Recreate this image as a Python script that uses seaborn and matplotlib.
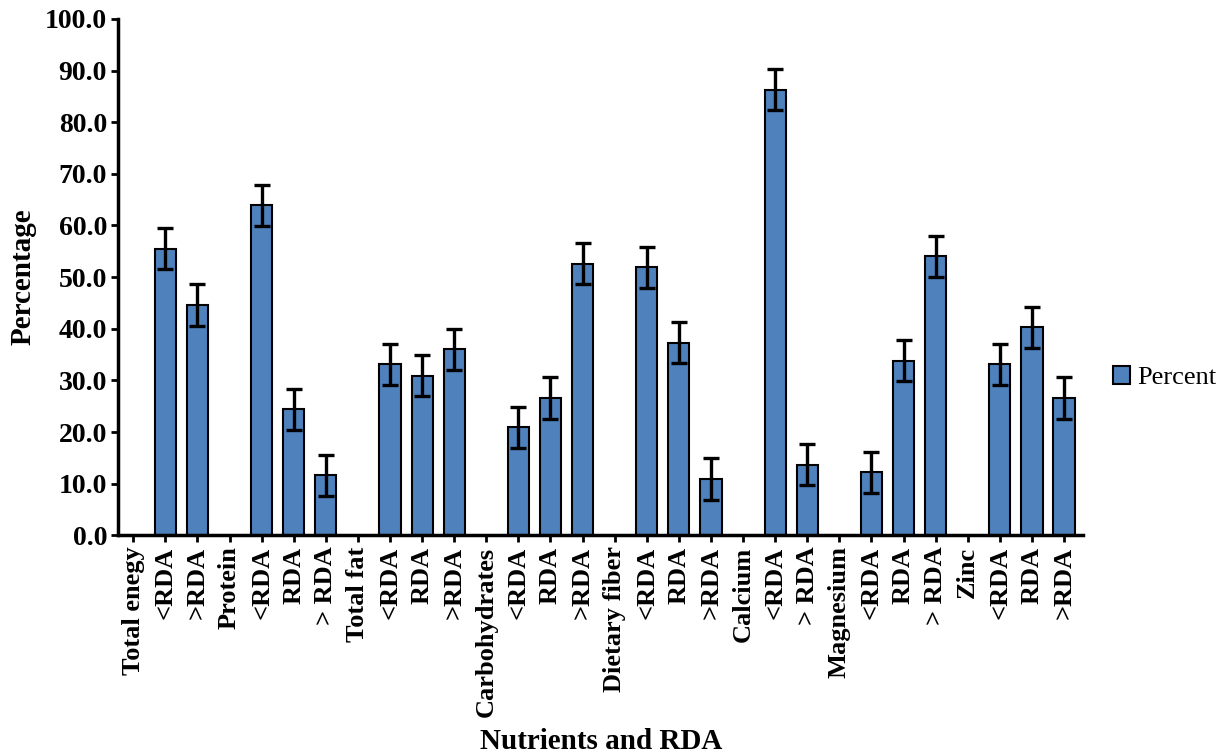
import numpy as np
import pandas as pd
import matplotlib
matplotlib.use("Agg")
import matplotlib.pyplot as plt
import seaborn as sns

# 데이터
labels = ['Total enegy', '<RDA', '>RDA',
          'Protein', '<RDA', 'RDA', '> RDA',
          'Total fat', '<RDA', 'RDA', '>RDA',
          'Carbohydrates', '<RDA', 'RDA', '>RDA',
          'Dietary fiber', '<RDA', 'RDA', '>RDA',
          'Calcium', '<RDA', '> RDA',
          'Magnesium', '<RDA', 'RDA', '> RDA',
          'Zinc', '<RDA', 'RDA', '>RDA']
percent = [np.nan, 55.5, 44.6,
           np.nan, 63.9, 24.4, 11.6,
           np.nan, 33.1, 30.9, 36.0,
           np.nan, 20.9, 26.6, 52.6,
           np.nan, 51.9, 37.3, 10.9,
           np.nan, 86.3, 13.7,
           np.nan, 12.2, 33.8, 54.0,
           np.nan, 33.1, 40.3, 26.6]
err = [np.nan if np.isnan(v) else 4.0 for v in percent]

df = pd.DataFrame({'pos': list(range(len(labels))), 'Percent': percent})

sns.set_style('white')
plt.rcParams['font.family'] = ['Liberation Serif', 'DejaVu Serif']
plt.rcParams['text.color'] = 'black'
plt.rcParams['axes.labelcolor'] = 'black'
plt.rcParams['xtick.color'] = 'black'
plt.rcParams['ytick.color'] = 'black'

fig = plt.figure(figsize=(12.31, 7.55), dpi=100)
ax = fig.add_axes([0.096, 0.291, 0.784, 0.684])

sns.barplot(data=df, x='pos', y='Percent', order=list(range(len(labels))),
            color='#4F81BD', edgecolor='black', linewidth=1.5, width=0.66,
            saturation=1, errorbar=None, label='Percent', ax=ax)
ax.errorbar(df['pos'], df['Percent'], yerr=err, fmt='none', ecolor='black',
            elinewidth=2.4, capsize=5.5, capthick=2.4)

ax.set_ylim(0, 100)
ax.set_xlim(-0.47, 29.6)
ax.set_yticks(np.arange(0, 101, 10))
ax.set_yticklabels([f'{v:.1f}' for v in np.arange(0, 101, 10)],
                   fontsize=20, fontweight='bold')
ax.set_xticks(range(len(labels)))
ax.set_xticklabels(labels, rotation=90, fontsize=19, fontweight='bold')

ax.tick_params(axis='both', direction='out', length=5, width=2,
               bottom=True, left=True, pad=3)
for s in ['top', 'right']:
    ax.spines[s].set_visible(False)
for s in ['left', 'bottom']:
    ax.spines[s].set_linewidth(2.5)
    ax.spines[s].set_color('black')

ax.set_ylabel('Percentage', fontsize=21, fontweight='bold', labelpad=6)
ax.set_xlabel('Nutrients and RDA', fontsize=21, fontweight='bold', labelpad=8)

ax.legend(loc='center left', bbox_to_anchor=(1.031, 0.305), frameon=False,
          prop={'size': 19}, handlelength=0.65, handleheight=0.65,
          handletextpad=0.25, borderaxespad=0, borderpad=0)

fig.savefig('out.png', dpi=100)
